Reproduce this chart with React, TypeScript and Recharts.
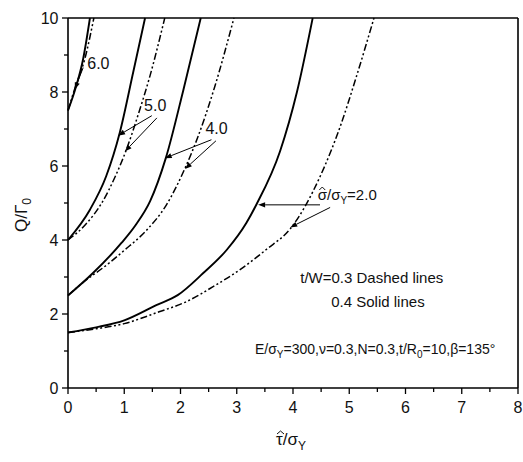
import { LineChart, Line, XAxis, YAxis, ReferenceLine, ReferenceDot } from "recharts";

// curves: [x, y]; solid = t/W=0.4, dash = t/W=0.3 (dash-dot-dot)
const solid60 = [[0, 7.5], [0.15, 8.18], [0.27, 8.9], [0.39, 10]];
const dash60 = [[0, 7.5], [0.12, 8.09], [0.3, 8.9], [0.46, 10]];
const solid50 = [[0, 4.0], [0.39, 4.82], [0.68, 5.73], [0.92, 6.9], [1.16, 8.54], [1.37, 10]];
const dash50 = [[0, 4.0], [0.3, 4.4], [0.6, 5.0], [0.85, 5.75], [1.04, 6.45], [1.25, 7.4], [1.46, 8.45], [1.72, 10]];
const solid40 = [[0, 2.5], [0.44, 3.1], [0.95, 3.92], [1.2, 4.4], [1.46, 5.05], [1.74, 6.22], [2.05, 8.05], [2.36, 10]];
const dash40 = [[0, 2.5], [0.21, 2.78], [0.75, 3.4], [1.0, 3.72], [1.4, 4.27], [1.75, 4.95], [2.08, 5.94], [2.3, 6.75], [2.61, 8.15], [2.95, 10]];
const solid20 = [[0, 1.5], [0.5, 1.64], [1.0, 1.83], [1.57, 2.24], [1.95, 2.51], [2.4, 3.1], [2.82, 3.73], [3.17, 4.46], [3.35, 4.96], [3.77, 6.4], [4.07, 8.0], [4.35, 10]];
const dash20 = [[0, 1.5], [0.5, 1.6], [1.0, 1.74], [1.62, 2.06], [2.1, 2.33], [2.58, 2.74], [3.05, 3.19], [3.53, 3.75], [3.95, 4.3], [4.48, 5.71], [4.84, 7.07], [5.13, 8.43], [5.44, 10]];

const xTicks = [0, 0.5, 1, 1.5, 2, 2.5, 3, 3.5, 4, 4.5, 5, 5.5, 6, 6.5, 7, 7.5, 8];
const yTicks = [0, 1, 2, 3, 4, 5, 6, 7, 8, 9, 10];
const yLabelled = [0, 2, 4, 6, 8, 10];

// arrows: [x1, y1, x2, y2], head at the second point
const arrows = [
  [0.27, 8.66, 0.12, 8.07],
  [1.49, 7.36, 0.89, 6.82],
  [1.58, 7.3, 1.01, 6.39],
  [2.55, 6.71, 1.72, 6.21],
  [2.63, 6.68, 2.08, 5.92],
  [4.48, 4.95, 3.38, 4.95],
  [4.66, 4.88, 3.95, 4.34],
];
const curveLabels = [
  { x: 0.54, y: 8.62, text: "6.0" },
  { x: 1.55, y: 7.49, text: "5.0" },
  { x: 2.64, y: 6.86, text: "4.0" },
];

const FONT = "'Liberation Sans', Arial, sans-serif";
const DASH = "7 2.5 2 2.5 2 2.5";

const toRows = (pts: number[][]) => pts.map(([x, y]) => ({ x, y }));

const BottomTick = (p: any) => {
  const v = p.payload.value;
  const major = Number.isInteger(v);
  return (
    <g>
      <line x1={p.x} y1={p.y} x2={p.x} y2={p.y + (major ? 6 : 4)} stroke="#000" strokeWidth={1.3} />
      {major && (
        <text x={p.x} y={p.y + 25} textAnchor="middle" fontSize={16} fontFamily={FONT} fill="#111">
          {v}
        </text>
      )}
    </g>
  );
};

const TopTick = (p: any) => {
  const major = Number.isInteger(p.payload.value);
  return <line x1={p.x} y1={p.y} x2={p.x} y2={p.y - (major ? 6 : 4)} stroke="#000" strokeWidth={1.3} />;
};

const LeftTick = (p: any) => {
  const v = p.payload.value;
  const major = yLabelled.includes(v);
  return (
    <g>
      <line x1={p.x} y1={p.y} x2={p.x - (major ? 6 : 4)} y2={p.y} stroke="#000" strokeWidth={1.3} />
      {major && (
        <text x={p.x - 9.5} y={p.y + 6} textAnchor="end" fontSize={16} fontFamily={FONT} fill="#111">
          {v}
        </text>
      )}
    </g>
  );
};

const RightTick = (p: any) => {
  const major = yLabelled.includes(p.payload.value);
  return <line x1={p.x} y1={p.y} x2={p.x + (major ? 6 : 4)} y2={p.y} stroke="#000" strokeWidth={1.3} />;
};

const Arrow = (p: any) => {
  const { x1, y1, x2, y2 } = p;
  const a = Math.atan2(y2 - y1, x2 - x1);
  const len = 7;
  const w = 2.6;
  const bx = x2 - len * Math.cos(a);
  const by = y2 - len * Math.sin(a);
  const nx = -Math.sin(a) * w;
  const ny = Math.cos(a) * w;
  return (
    <g>
      <line x1={x1} y1={y1} x2={bx} y2={by} stroke="#000" strokeWidth={1} />
      <polygon points={`${x2},${y2} ${bx + nx},${by + ny} ${bx - nx},${by - ny}`} fill="#000" />
    </g>
  );
};

// small circumflex drawn as a path
const Hat = ({ x, y, w }: { x: number; y: number; w: number }) => (
  <polyline points={`${x},${y} ${x + w / 2},${y - 3} ${x + w},${y}`} fill="none" stroke="#111" strokeWidth={1} />
);

const textAt = (content: React.ReactNode, size: number) => (p: any) => (
  <text x={p.cx} y={p.cy} textAnchor="middle" fontSize={size} fontFamily={FONT} fill="#111">
    {content}
  </text>
);

const SigmaLabel = (p: any) => (
  <g>
    <text x={p.cx} y={p.cy} fontSize={15} fontFamily={FONT} fill="#111">
      <tspan>{"\u03c3/\u03c3"}</tspan>
      <tspan fontSize={10} dy={4}>Y</tspan>
      <tspan dy={-4}>=2.0</tspan>
    </text>
    <Hat x={p.cx + 1.5} y={p.cy - 10} w={6} />
  </g>
);

const EqLabel = (p: any) => (
  <text x={p.cx} y={p.cy} textAnchor="middle" fontSize={14} fontFamily={FONT} fill="#111">
    <tspan>{"E/\u03c3"}</tspan>
    <tspan fontSize={10} dy={4}>Y</tspan>
    <tspan dy={-4}>{"=300,\u03bd=0.3,N=0.3,t/R"}</tspan>
    <tspan fontSize={10} dy={4}>0</tspan>
    <tspan dy={-4}>{"=10,\u03b2=135\u00b0"}</tspan>
  </text>
);

export default function App() {
  const curves = [
    { data: solid60, dashed: false },
    { data: dash60, dashed: true },
    { data: solid50, dashed: false },
    { data: dash50, dashed: true },
    { data: solid40, dashed: false },
    { data: dash40, dashed: true },
    { data: solid20, dashed: false },
    { data: dash20, dashed: true },
  ];

  return (
    <div style={{ position: "absolute", left: 0, top: 0, width: 523, height: 462, background: "#fff" }}>
      <LineChart width={523} height={462} margin={{ top: 0, right: 0, bottom: 0, left: 0 }}>
        <XAxis
          dataKey="x"
          type="number"
          domain={[0, 8]}
          ticks={xTicks}
          interval={0}
          height={74}
          tickLine={false}
          tickSize={0}
          tickMargin={0}
          tick={<BottomTick />}
          axisLine={{ stroke: "#000", strokeWidth: 1.6 }}
          label={{
            content: (p: any) => {
              const vb = p.viewBox;
              const x0 = vb.x + vb.width / 2 - 17;
              const y0 = vb.y + 57;
              return (
                <g>
                  <text x={x0} y={y0} fontSize={17} fontFamily={FONT} fill="#111">
                    <tspan>{"\u03c4/\u03c3"}</tspan>
                    <tspan fontSize={12} dy={5}>Y</tspan>
                  </text>
                  <Hat x={x0 + 1} y={y0 - 11} w={7} />
                </g>
              );
            },
          }}
        />
        <XAxis
          xAxisId="top"
          orientation="top"
          type="number"
          domain={[0, 8]}
          ticks={xTicks}
          interval={0}
          height={18}
          tickLine={false}
          tickSize={0}
          tickMargin={0}
          tick={<TopTick />}
          axisLine={{ stroke: "#000", strokeWidth: 1.6 }}
        />
        <YAxis
          type="number"
          domain={[0, 10]}
          ticks={yTicks}
          interval={0}
          width={68}
          tickLine={false}
          tickSize={0}
          tickMargin={0}
          tick={<LeftTick />}
          axisLine={{ stroke: "#000", strokeWidth: 1.6 }}
          label={{
            content: (p: any) => {
              const vb = p.viewBox;
              const cx = vb.x + 27;
              const cy = vb.y + vb.height / 2 + 12;
              return (
                <text x={cx} y={cy} transform={`rotate(-90 ${cx} ${cy})`} textAnchor="middle" fontSize={17} fontFamily={FONT} fill="#111">
                  <tspan>{"Q/\u0393"}</tspan>
                  <tspan fontSize={12} dy={4}>0</tspan>
                </text>
              );
            },
          }}
        />
        <YAxis
          yAxisId="right"
          orientation="right"
          type="number"
          domain={[0, 10]}
          ticks={yTicks}
          interval={0}
          width={5}
          tickLine={false}
          tickSize={0}
          tickMargin={0}
          tick={<RightTick />}
          axisLine={{ stroke: "#000", strokeWidth: 1.6 }}
        />
        {curves.map((c, i) => (
          <Line
            key={i}
            data={toRows(c.data)}
            dataKey="y"
            type="monotone"
            stroke="#000"
            strokeWidth={c.dashed ? 1.5 : 1.9}
            strokeDasharray={c.dashed ? DASH : undefined}
            dot={false}
            activeDot={false}
            isAnimationActive={false}
          />
        ))}
        {arrows.map((a, i) => (
          <ReferenceLine
            key={"a" + i}
            segment={[{ x: a[0], y: a[1] }, { x: a[2], y: a[3] }]}
            shape={<Arrow />}
          />
        ))}
        {curveLabels.map((l, i) => (
          <ReferenceDot key={"l" + i} x={l.x} y={l.y} r={0} shape={textAt(l.text, 16)} />
        ))}
        <ReferenceDot x={4.44} y={5.08} r={0} shape={SigmaLabel} />
        <ReferenceDot x={5.4} y={2.84} r={0} shape={textAt("t/W=0.3 Dashed lines", 15)} />
        <ReferenceDot x={5.51} y={2.19} r={0} shape={textAt("0.4 Solid lines", 15)} />
        <ReferenceDot x={5.46} y={0.92} r={0} shape={EqLabel} />
      </LineChart>
    </div>
  );
}
